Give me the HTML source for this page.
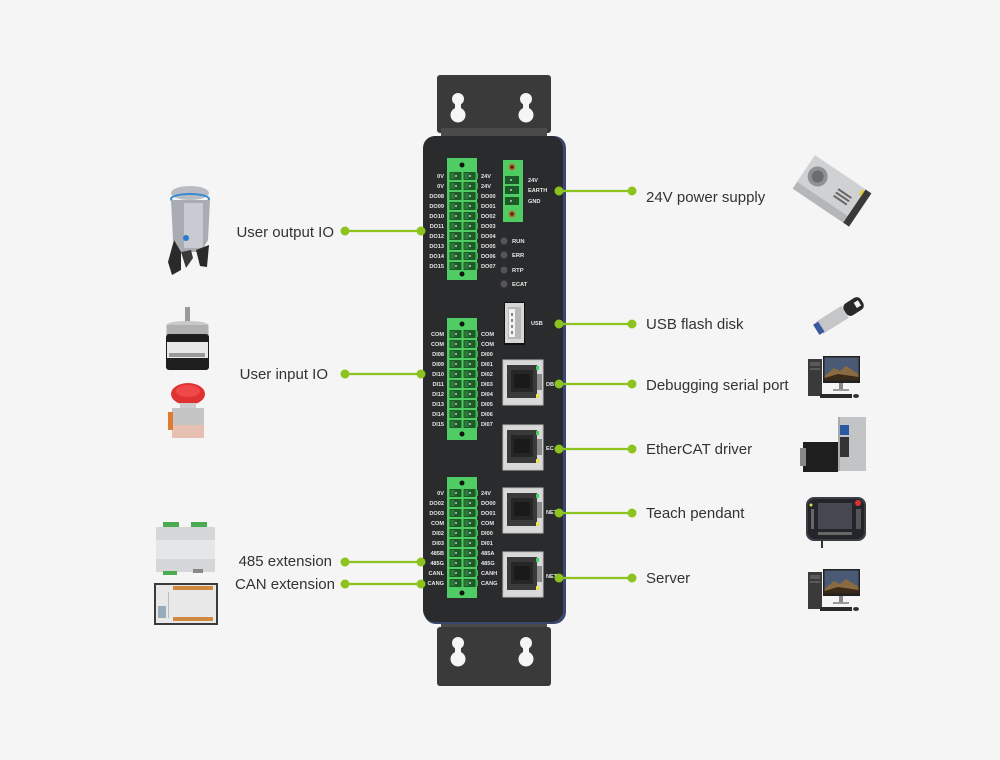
<!DOCTYPE html>
<html>
<head>
<meta charset="utf-8">
<style>
  html,body{margin:0;padding:0;background:#f5f5f5;}
  svg{display:block;}
  .lbl{font-family:"Liberation Sans",Arial,sans-serif;font-size:15px;fill:#333;}
  .t{font-family:"Liberation Sans",Arial,sans-serif;font-size:5.6px;font-weight:bold;fill:#e6e6e6;}
  .t2{font-family:"Liberation Sans",Arial,sans-serif;font-size:5.8px;font-weight:bold;fill:#e6e6e6;}
</style>
</head>
<body>
<svg width="1000" height="760" viewBox="0 0 1000 760" xmlns="http://www.w3.org/2000/svg">
  <defs>
    <g id="row">
      <rect x="449.5" y="-4" width="12" height="8" fill="#1c5a28"/>
      <rect x="463.5" y="-4" width="12" height="8" fill="#1c5a28"/>
      <rect x="450.5" y="-3" width="4" height="6" fill="#2c7a3a"/>
      <rect x="464.5" y="-3" width="4" height="6" fill="#2c7a3a"/>
      <circle cx="456" cy="0" r="0.9" fill="#f0f0f0"/>
      <circle cx="470" cy="0" r="0.9" fill="#f0f0f0"/>
      <rect x="475.5" y="-3" width="2.5" height="6" fill="#3bb04f"/>
    </g>
    <g id="rj">
      <rect x="0" y="0" width="40" height="45" fill="#d9d9d9" stroke="#bdbdbd" stroke-width="1"/>
      <rect x="4" y="5" width="30" height="33" fill="#3a3a3a"/>
      <rect x="8" y="10" width="22" height="22" fill="#262626"/>
      <rect x="11" y="14" width="16" height="14" fill="#1a1a1a"/>
      <rect x="34" y="14" width="5" height="16" fill="#8a8a8a"/>
      <rect x="33" y="6" width="3" height="4" fill="#3fd45a"/>
      <rect x="33" y="34" width="3" height="4" fill="#f0e040"/>
    </g>
    <g id="pc">
      <rect x="0" y="3" width="14" height="37" fill="#3a3a3a"/>
      <rect x="2" y="6" width="10" height="4" fill="#5a5a5a"/>
      <rect x="2" y="12" width="10" height="2" fill="#5a5a5a"/>
      <rect x="15" y="0" width="37" height="27" fill="#222"/>
      <rect x="16.5" y="1.5" width="34" height="23" fill="#4a5a75"/>
      <path d="M16.5 20 L26 12 L32 15 L38 10 L50.5 18 L50.5 24.5 L16.5 24.5 Z" fill="#8a6a40"/>
      <path d="M16.5 22 L30 18 L50.5 21 L50.5 24.5 L16.5 24.5 Z" fill="#3a2a1a"/>
      <rect x="31" y="27" width="4" height="7" fill="#888"/>
      <rect x="25" y="33" width="16" height="2" fill="#999"/>
      <rect x="12" y="38" width="32" height="4" fill="#2a2a2a"/>
      <ellipse cx="48" cy="40" rx="3" ry="2" fill="#333"/>
    </g>
  </defs>

  <rect x="0" y="0" width="1000" height="760" fill="#f5f5f5"/>

  <!-- Top bracket -->
  <rect x="437" y="75" width="114" height="58" rx="3" fill="#3a3a3a"/>
  <rect x="441" y="128" width="106" height="10" fill="#4a4a4a"/>
  <g fill="#f5f5f5">
    <circle cx="458" cy="99" r="6"/><rect x="455" y="99" width="6" height="14"/><circle cx="458" cy="115" r="7.5"/>
    <circle cx="526" cy="99" r="6"/><rect x="523" y="99" width="6" height="14"/><circle cx="526" cy="115" r="7.5"/>
  </g>

  <!-- Bottom bracket -->
  <rect x="441" y="618" width="106" height="12" fill="#4a4a4a"/>
  <rect x="437" y="627" width="114" height="59" rx="3" fill="#3a3a3a"/>
  <g fill="#f5f5f5">
    <circle cx="458" cy="643" r="6"/><rect x="455" y="643" width="6" height="14"/><circle cx="458" cy="659" r="7.5"/>
    <circle cx="526" cy="643" r="6"/><rect x="523" y="643" width="6" height="14"/><circle cx="526" cy="659" r="7.5"/>
  </g>

  <!-- Body -->
  <rect x="424" y="136" width="142" height="488" rx="12" fill="#3b4770"/>
  <rect x="423" y="136" width="140" height="486" rx="12" fill="#2a2b2d"/>

  <!-- Terminal block top -->
  <rect x="447" y="158" width="30" height="122" fill="#4fcc63"/>
  <circle cx="462" cy="165" r="2.5" fill="#111"/>
  <circle cx="462" cy="274" r="2.5" fill="#111"/>
  <use href="#row" y="176"/><use href="#row" y="186"/><use href="#row" y="196"/><use href="#row" y="206"/><use href="#row" y="216"/>
  <use href="#row" y="226"/><use href="#row" y="236"/><use href="#row" y="246"/><use href="#row" y="256"/><use href="#row" y="266"/>
  <g class="t" text-anchor="end">
    <text x="444" y="178">0V</text><text x="444" y="188">0V</text><text x="444" y="198">DO08</text><text x="444" y="208">DO09</text><text x="444" y="218">DO10</text>
    <text x="444" y="228">DO11</text><text x="444" y="238">DO12</text><text x="444" y="248">DO13</text><text x="444" y="258">DO14</text><text x="444" y="268">DO15</text>
  </g>
  <g class="t">
    <text x="481" y="178">24V</text><text x="481" y="188">24V</text><text x="481" y="198">DO00</text><text x="481" y="208">DO01</text><text x="481" y="218">DO02</text>
    <text x="481" y="228">DO03</text><text x="481" y="238">DO04</text><text x="481" y="248">DO05</text><text x="481" y="258">DO06</text><text x="481" y="268">DO07</text>
  </g>

  <!-- Terminal block middle -->
  <rect x="447" y="318" width="30" height="122" fill="#4fcc63"/>
  <circle cx="462" cy="324" r="2.5" fill="#111"/>
  <circle cx="462" cy="434" r="2.5" fill="#111"/>
  <use href="#row" y="334"/><use href="#row" y="344"/><use href="#row" y="354"/><use href="#row" y="364"/><use href="#row" y="374"/>
  <use href="#row" y="384"/><use href="#row" y="394"/><use href="#row" y="404"/><use href="#row" y="414"/><use href="#row" y="424"/>
  <g class="t" text-anchor="end">
    <text x="444" y="336">COM</text><text x="444" y="346">COM</text><text x="444" y="356">DI08</text><text x="444" y="366">DI09</text><text x="444" y="376">DI10</text>
    <text x="444" y="386">DI11</text><text x="444" y="396">DI12</text><text x="444" y="406">DI13</text><text x="444" y="416">DI14</text><text x="444" y="426">DI15</text>
  </g>
  <g class="t">
    <text x="481" y="336">COM</text><text x="481" y="346">COM</text><text x="481" y="356">DI00</text><text x="481" y="366">DI01</text><text x="481" y="376">DI02</text>
    <text x="481" y="386">DI03</text><text x="481" y="396">DI04</text><text x="481" y="406">DI05</text><text x="481" y="416">DI06</text><text x="481" y="426">DI07</text>
  </g>

  <!-- Terminal block bottom -->
  <rect x="447" y="477" width="30" height="121" fill="#4fcc63"/>
  <circle cx="462" cy="483" r="2.5" fill="#111"/>
  <circle cx="462" cy="593" r="2.5" fill="#111"/>
  <use href="#row" y="493"/><use href="#row" y="503"/><use href="#row" y="513"/><use href="#row" y="523"/><use href="#row" y="533"/>
  <use href="#row" y="543"/><use href="#row" y="553"/><use href="#row" y="563"/><use href="#row" y="573"/><use href="#row" y="583"/>
  <g class="t" text-anchor="end">
    <text x="444" y="495">0V</text><text x="444" y="505">DO02</text><text x="444" y="515">DO03</text><text x="444" y="525">COM</text><text x="444" y="535">DI02</text>
    <text x="444" y="545">DI03</text><text x="444" y="555">485B</text><text x="444" y="565">485G</text><text x="444" y="575">CANL</text><text x="444" y="585">CANG</text>
  </g>
  <g class="t">
    <text x="481" y="495">24V</text><text x="481" y="505">DO00</text><text x="481" y="515">DO01</text><text x="481" y="525">COM</text><text x="481" y="535">DI00</text>
    <text x="481" y="545">DI01</text><text x="481" y="555">485A</text><text x="481" y="565">485G</text><text x="481" y="575">CANH</text><text x="481" y="585">CANG</text>
  </g>

  <!-- Power terminal -->
  <rect x="503" y="160" width="20" height="62" fill="#4fcc63"/>
  <circle cx="512" cy="167" r="3.5" fill="#b07030"/><circle cx="512" cy="167" r="1.6" fill="#3a2010"/>
  <circle cx="512" cy="214" r="3.5" fill="#b07030"/><circle cx="512" cy="214" r="1.6" fill="#3a2010"/>
  <rect x="505" y="176" width="14" height="8" fill="#1c5a28"/>
  <rect x="505" y="186" width="14" height="8" fill="#1c5a28"/>
  <rect x="505" y="197" width="14" height="8" fill="#1c5a28"/>
  <circle cx="511" cy="180" r="0.9" fill="#eee"/><circle cx="511" cy="190" r="0.9" fill="#eee"/><circle cx="511" cy="201" r="0.9" fill="#eee"/>
  <g class="t">
    <text x="528" y="182">24V</text><text x="528" y="192">EARTH</text><text x="528" y="203">GND</text>
  </g>

  <!-- LEDs -->
  <g fill="#555">
    <circle cx="504" cy="241" r="3.5"/><circle cx="504" cy="255" r="3.5"/><circle cx="504" cy="270" r="3.5"/><circle cx="504" cy="284" r="3.5"/>
  </g>
  <g class="t2">
    <text x="512" y="243">RUN</text><text x="512" y="257">ERR</text><text x="512" y="272">RTP</text><text x="512" y="286">ECAT</text>
  </g>

  <!-- USB -->
  <rect x="504" y="302" width="21" height="43" fill="#111"/>
  <rect x="505" y="303" width="19" height="40" fill="#d6d6d6"/>
  <rect x="508" y="307" width="13" height="32" fill="#b8b8b8"/>
  <rect x="509" y="309" width="6" height="28" fill="#f2f2f2"/>
  <rect x="511" y="313" width="2" height="3" fill="#888"/><rect x="511" y="319" width="2" height="3" fill="#888"/>
  <rect x="511" y="325" width="2" height="3" fill="#888"/><rect x="511" y="331" width="2" height="3" fill="#888"/>
  <text class="t" x="531" y="325">USB</text>

  <!-- RJ45 ports -->
  <use href="#rj" x="503" y="360"/>
  <use href="#rj" x="503" y="425"/>
  <use href="#rj" x="503" y="488"/>
  <use href="#rj" x="503" y="552"/>
  <g class="t">
    <text x="546" y="386">DB</text><text x="546" y="450">EC</text><text x="546" y="514">NET</text><text x="546" y="578">NET</text>
  </g>

  <!-- Connectors -->
  <g stroke="#8cc31e" stroke-width="2.2">
    <line x1="345" y1="231" x2="421" y2="231"/>
    <line x1="345" y1="374" x2="421" y2="374"/>
    <line x1="345" y1="562" x2="421" y2="562"/>
    <line x1="345" y1="584" x2="421" y2="584"/>
    <line x1="559" y1="191" x2="632" y2="191"/>
    <line x1="559" y1="324" x2="632" y2="324"/>
    <line x1="559" y1="384" x2="632" y2="384"/>
    <line x1="559" y1="449" x2="632" y2="449"/>
    <line x1="559" y1="513" x2="632" y2="513"/>
    <line x1="559" y1="578" x2="632" y2="578"/>
  </g>
  <g fill="#8cc31e">
    <circle cx="345" cy="231" r="4.5"/><circle cx="421" cy="231" r="4.5"/>
    <circle cx="345" cy="374" r="4.5"/><circle cx="421" cy="374" r="4.5"/>
    <circle cx="345" cy="562" r="4.5"/><circle cx="421" cy="562" r="4.5"/>
    <circle cx="345" cy="584" r="4.5"/><circle cx="421" cy="584" r="4.5"/>
    <circle cx="559" cy="191" r="4.5"/><circle cx="632" cy="191" r="4.5"/>
    <circle cx="559" cy="324" r="4.5"/><circle cx="632" cy="324" r="4.5"/>
    <circle cx="559" cy="384" r="4.5"/><circle cx="632" cy="384" r="4.5"/>
    <circle cx="559" cy="449" r="4.5"/><circle cx="632" cy="449" r="4.5"/>
    <circle cx="559" cy="513" r="4.5"/><circle cx="632" cy="513" r="4.5"/>
    <circle cx="559" cy="578" r="4.5"/><circle cx="632" cy="578" r="4.5"/>
  </g>

  <!-- Labels -->
  <g class="lbl">
    <text x="334" y="237" text-anchor="end">User output IO</text>
    <text x="328" y="379" text-anchor="end">User input IO</text>
    <text x="332" y="566" text-anchor="end">485 extension</text>
    <text x="335" y="589" text-anchor="end">CAN extension</text>
    <text x="646" y="202">24V power supply</text>
    <text x="646" y="329">USB flash disk</text>
    <text x="646" y="390">Debugging serial port</text>
    <text x="646" y="454">EtherCAT driver</text>
    <text x="646" y="518">Teach pendant</text>
    <text x="646" y="583">Server</text>
  </g>

  <!-- Gripper -->
  <g>
    <ellipse cx="190" cy="193" rx="19" ry="7" fill="#b8bcc2"/>
    <ellipse cx="190" cy="199" rx="19" ry="5" fill="none" stroke="#3a8ad0" stroke-width="2"/>
    <path d="M171 200 L210 200 L208 240 L201 252 L179 252 L173 240 Z" fill="#a9adb3"/>
    <rect x="184" y="203" width="19" height="45" fill="#c8ccd2"/>
    <circle cx="186" cy="238" r="3" fill="#2a7ad0"/>
    <path d="M174 240 L168 262 L172 275 L181 270 L181 252 Z" fill="#2a2a2a"/>
    <path d="M196 250 L200 266 L207 267 L209 245 Z" fill="#2a2a2a"/>
    <path d="M181 252 L186 268 L193 258 L191 250 Z" fill="#3a3a3a"/>
  </g>
  <!-- Encoder -->
  <g>
    <rect x="185" y="307" width="5" height="16" fill="#9a9a9a"/>
    <ellipse cx="187.5" cy="325" rx="21" ry="4" fill="#c8c8c8"/>
    <rect x="166.5" y="325" width="42" height="10" fill="#b0b0b0"/>
    <rect x="166" y="334" width="43" height="36" rx="3" fill="#1e1e1e"/>
    <rect x="167" y="342" width="41" height="16" fill="#e8e8e8"/>
    <rect x="169" y="353" width="36" height="4" fill="#999"/>
  </g>
  <!-- E-stop -->
  <g>
    <ellipse cx="188" cy="394" rx="17" ry="11" fill="#e13232"/>
    <ellipse cx="188" cy="391" rx="12" ry="6" fill="#f04848"/>
    <rect x="180" y="403" width="16" height="6" fill="#ccc"/>
    <rect x="172" y="408" width="32" height="30" fill="#c4c4c4"/>
    <rect x="172" y="425" width="32" height="13" fill="#e6c0b0"/>
    <rect x="168" y="412" width="5" height="18" fill="#e07a30"/>
  </g>
  <!-- 485 module -->
  <g>
    <rect x="156" y="527" width="59" height="45" fill="#d4d6d8"/>
    <rect x="156" y="540" width="59" height="19" fill="#e4e6e8"/>
    <rect x="163" y="522" width="16" height="5" fill="#4caa50"/>
    <rect x="191" y="522" width="16" height="5" fill="#4caa50"/>
    <rect x="163" y="571" width="14" height="4" fill="#4caa50"/>
    <rect x="193" y="569" width="10" height="4" fill="#888"/>
  </g>
  <!-- CAN module -->
  <g>
    <rect x="154" y="583" width="64" height="42" fill="#3a3a3a"/>
    <rect x="156" y="585" width="60" height="38" fill="#e8e8e8"/>
    <rect x="173" y="586" width="40" height="4" fill="#d08a40"/>
    <rect x="173" y="617" width="40" height="4" fill="#d08a40"/>
    <rect x="158" y="606" width="8" height="12" fill="#9ab"/>
    <rect x="168" y="592" width="1" height="26" fill="#bbb"/>
  </g>

  <!-- Power supply -->
  <g transform="translate(832,191) rotate(34)">
    <rect x="-34" y="-20" width="68" height="40" fill="#b4b6b8"/>
    <rect x="-34" y="-20" width="68" height="32" fill="#cfd1d3"/>
    <circle cx="-20" cy="-4" r="10" fill="#8e9092"/><circle cx="-20" cy="-4" r="6" fill="#6a6c6e"/>
    <rect x="4" y="-6" width="16" height="2" fill="#666"/><rect x="4" y="-2" width="16" height="2" fill="#666"/><rect x="4" y="2" width="16" height="2" fill="#666"/>
    <rect x="27" y="-20" width="7" height="40" fill="#3a3a3a"/>
    <rect x="24" y="-18" width="3" height="6" fill="#e0d040"/>
  </g>
  <!-- USB flash -->
  <g transform="translate(840,315) rotate(-32)">
    <rect x="-24" y="-7" width="30" height="14" fill="#c4c6c8"/>
    <rect x="-28" y="-6" width="6" height="12" fill="#3a5aa0"/>
    <rect x="6" y="-7" width="20" height="14" rx="5" fill="#2a2a2a"/>
    <rect x="18" y="-3" width="5" height="6" fill="#f5f5f5"/>
  </g>
  <!-- PC -->
  <use href="#pc" x="808" y="356"/>
  <!-- Servo -->
  <g>
    <rect x="838" y="417" width="28" height="54" fill="#a8aaac"/>
    <rect x="840" y="417" width="26" height="54" fill="#c2c4c6"/>
    <rect x="840" y="425" width="9" height="10" fill="#2a5aa0"/>
    <rect x="840" y="437" width="9" height="20" fill="#333"/>
    <rect x="803" y="442" width="35" height="30" fill="#1e1e1e"/>
    <rect x="800" y="448" width="6" height="18" fill="#888"/>
  </g>
  <!-- Teach pendant -->
  <g>
    <line x1="822" y1="540" x2="822" y2="548" stroke="#333" stroke-width="2"/>
    <rect x="806" y="497" width="60" height="44" rx="8" fill="#3a3d44"/>
    <rect x="808" y="499" width="56" height="40" rx="7" fill="#23252a"/>
    <rect x="818" y="503" width="34" height="26" fill="#45484e"/>
    <circle cx="858" cy="503" r="3" fill="#e03030"/>
    <circle cx="811" cy="505" r="1.5" fill="#e0e040"/>
    <rect x="811" y="509" width="3" height="20" fill="#666"/>
    <rect x="856" y="509" width="5" height="20" fill="#555"/>
    <rect x="818" y="532" width="34" height="3" fill="#666"/>
  </g>
  <!-- Server PC -->
  <use href="#pc" x="808" y="569"/>
</svg>
</body>
</html>
